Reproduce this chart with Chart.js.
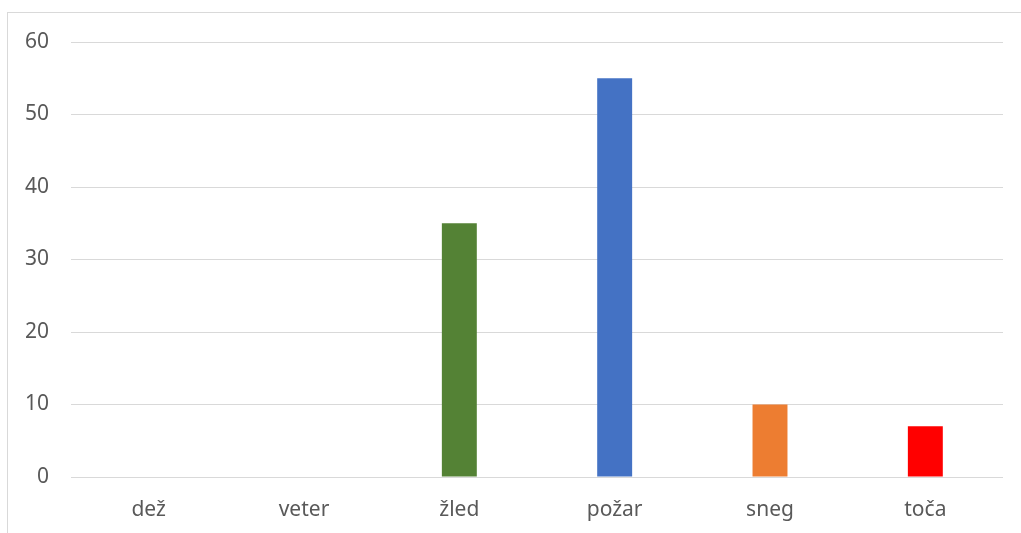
<!DOCTYPE html>
<html>
<head>
<meta charset="utf-8">
<script src="https://cdn.jsdelivr.net/npm/chart.js@4/dist/chart.umd.min.js"></script>
<style>
  html, body { margin: 0; padding: 0; background: #fff; }
  #wrap { position: relative; width: 1021px; height: 533px; }
</style>
</head>
<body>
<div id="wrap"><canvas id="chart"></canvas></div>
<script>
const categories = ["dež", "veter", "žled", "požar", "sneg", "toča"];
const counts = [0, 0, 35, 55, 10, 7];
const barColors = ["#A5A5A5", "#FFC000", "#548235", "#4472C4", "#ED7D31", "#FF0000"];
const yTicks = [0, 10, 20, 30, 40, 50, 60];

// thin light frame around the chart, running off the right and bottom edges
const framePlugin = {
  id: "frame",
  beforeDraw(chart) {
    const ctx = chart.ctx;
    ctx.save();
    ctx.strokeStyle = "#d9d9d9";
    ctx.lineWidth = 1;
    ctx.strokeRect(7.5, 12.5, 1100, 600);
    ctx.restore();
  }
};

const labelFont = { family: "'Noto Sans', sans-serif", size: 21 };

const ctx = document.getElementById("chart").getContext("2d");
new Chart(ctx, {
  type: "bar",
  data: {
    labels: categories,
    datasets: [{
      data: counts,
      backgroundColor: barColors,
      borderWidth: 0,
      categoryPercentage: 1,
      barPercentage: 0.225
    }]
  },
  options: {
    responsive: true,
    maintainAspectRatio: false,
    animation: false,
    layout: { padding: { left: 0, right: 18, top: 42, bottom: 0 } },
    plugins: {
      legend: { display: false },
      tooltip: { enabled: false }
    },
    scales: {
      x: {
        grid: { display: false, drawTicks: false },
        border: { display: false },
        ticks: { color: "#595959", font: labelFont, padding: 20 },
        afterFit(scale) { scale.height = 56; }
      },
      y: {
        min: 0,
        max: 60,
        afterBuildTicks(scale) { scale.ticks = yTicks.map(v => ({ value: v })); },
        grid: { color: "#d9d9d9", lineWidth: 1, drawTicks: false },
        border: { display: false },
        ticks: { color: "#595959", font: labelFont, padding: 22 },
        afterFit(scale) { scale.width = 71; }
      }
    }
  },
  plugins: [framePlugin]
});
</script>
</body>
</html>
